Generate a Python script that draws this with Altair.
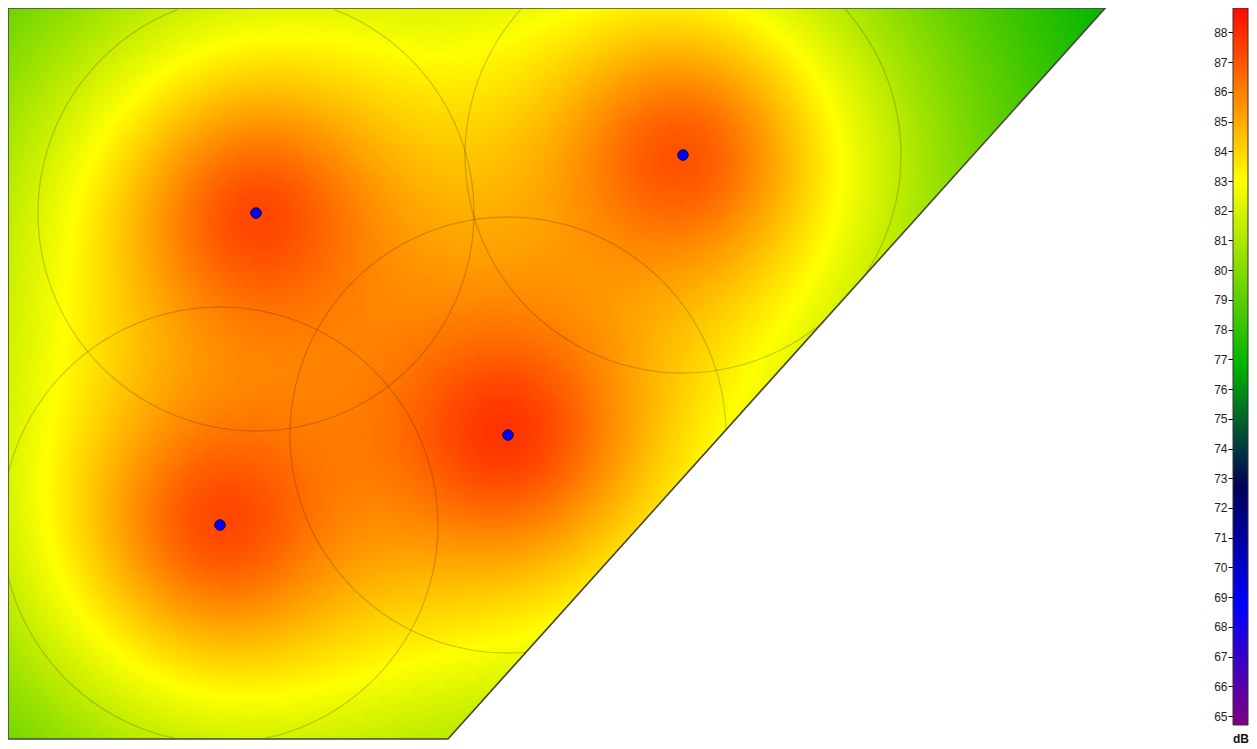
import numpy as np
import pandas as pd
import altair as alt

# ---- site geometry (metres, origin bottom-left, y up) ----
site_x = [0.0, 0.0, 109.73, 44.0, 0.0]
site_y = [0.0, 73.1, 73.1, 0.0, 0.0]
diag_x0, diag_x1, diag_ytop = 44.0, 110.0, 73.4   # slanted edge from (44,0) towards (110,73.4)
view_w, view_h = 110.0, 73.1

# ---- noise sources ----
src_name = ["S1", "S2", "S3", "S4"]
src_x = [24.8, 67.5, 50.0, 21.2]
src_y = [52.6, 58.4, 30.4, 21.4]
src_lw = [107.4, 107.4, 107.8, 107.4]
rec_h = 11.5          # source/receiver height offset (m)
ring_r = 21.8         # radius of the reference circles (m)

# ---- colour legend ----
cb_stops = [64.7, 68.7, 72.7, 76.8, 83.0, 89.0]
cb_colors = ["#800080", "#0000ff", "#00005a", "#00b400", "#ffff00", "#ff0000"]
cb_ticks = list(range(65, 89))
cb_min, cb_max = 64.7, 88.82

# ---- noise grid from the sources ----
cell = 0.4
gx = np.arange(0, view_w - 1e-9, cell)
gy = np.arange(0, view_h, cell)
X, Y = np.meshgrid(gx, gy)
Xc, Yc = X + cell / 2, Y + cell / 2
E = np.zeros_like(X)
for sx, sy, lw in zip(src_x, src_y, src_lw):
    d2 = (Xc - sx) ** 2 + (Yc - sy) ** 2 + rec_h ** 2
    E += 10 ** ((lw - 10 * np.log10(d2)) / 10)
L = 10 * np.log10(E)
diag_top = diag_x0 + (Y + cell) * (diag_x1 - diag_x0) / diag_ytop
mask = X < diag_top
grid = pd.DataFrame({
    "x": np.round(X[mask], 2),
    "y": np.round(Y[mask], 2),
    "L": np.round(L[mask], 2),
})

xsc = alt.Scale(domain=[0, view_w], nice=False, zero=False)
ysc = alt.Scale(domain=[0, view_h], nice=False, zero=False)
cscale = alt.Scale(domain=cb_stops, range=cb_colors, interpolate="rgb", clamp=True)

cells = alt.Chart(grid).transform_calculate(
    x2=f"datum.x + {cell}", y2=f"datum.y + {cell}"
).mark_rect(clip=True, strokeWidth=0.7).encode(
    x=alt.X("x:Q", scale=xsc, axis=None),
    x2="x2:Q",
    y=alt.Y("y:Q", scale=ysc, axis=None),
    y2="y2:Q",
    color=alt.Color("L:Q", scale=cscale, legend=None),
    stroke=alt.Stroke("L:Q", scale=cscale, legend=None),
)

# reference circles (only the parts inside the view)
rings = []
seg = 0
for i, (sx, sy) in enumerate(zip(src_x, src_y)):
    seg += 1
    prev_in = True
    for k, a in enumerate(np.linspace(0, 2 * np.pi, 241)):
        px, py = sx + ring_r * np.cos(a), sy + ring_r * np.sin(a)
        inside = (0 <= px <= view_w) and (0 <= py <= view_h)
        if inside:
            if not prev_in:
                seg += 1
            rings.append({"id": seg, "k": k, "x": px, "y": py})
        prev_in = inside
rings = pd.DataFrame(rings)
ring_layer = alt.Chart(rings).mark_line(
    clip=True, color="#000000", strokeOpacity=0.18, strokeWidth=1.3
).encode(
    x=alt.X("x:Q", scale=xsc, axis=None),
    y=alt.Y("y:Q", scale=ysc, axis=None),
    detail="id:N",
    order="k:Q",
)

# blank out beyond the slanted edge
tri = pd.DataFrame({"x": [diag_x0, site_x[2], view_w], "y": [0.0, view_h, view_h], "y0": [0.0, 0.0, 0.0]})
mask_layer = alt.Chart(tri).mark_area(clip=True, color="white", opacity=1).encode(
    x=alt.X("x:Q", scale=xsc, axis=None),
    y=alt.Y("y:Q", scale=ysc, axis=None),
    y2="y0:Q",
)

site = pd.DataFrame({"x": site_x, "y": site_y, "k": list(range(len(site_x)))})
outline = alt.Chart(site).mark_line(color="#454545", strokeWidth=1.6).encode(
    x=alt.X("x:Q", scale=xsc, axis=None),
    y=alt.Y("y:Q", scale=ysc, axis=None),
    order="k:Q",
)

srcs = pd.DataFrame({"name": src_name, "x": src_x, "y": src_y})
dots = alt.Chart(srcs).mark_circle(
    size=110, color="#0000ff", stroke="#00002a", strokeWidth=1, opacity=1
).encode(
    x=alt.X("x:Q", scale=xsc, axis=None),
    y=alt.Y("y:Q", scale=ysc, axis=None),
)

main = alt.layer(cells, ring_layer, mask_layer, outline, dots).properties(
    width=1100, height=731
)

# colour bar (smooth gradient built from the same stops)
def _hex(c):
    return [int(c[i:i + 2], 16) for i in (1, 3, 5)]

rgb = np.array([_hex(c) for c in cb_colors], dtype=float)
grad_vals = [cb_min] + [s for s in cb_stops if cb_min < s < cb_max] + [cb_max]
grad_stops = []
for v in grad_vals:
    col = [int(round(np.interp(v, cb_stops, rgb[:, j]))) for j in range(3)]
    grad_stops.append(alt.GradientStop(
        color="#%02x%02x%02x" % tuple(col),
        offset=float((v - cb_min) / (cb_max - cb_min)),
    ))
gradient = alt.LinearGradient(gradient="linear", stops=grad_stops, x1=0, x2=0, y1=1, y2=0)

cbdf = pd.DataFrame({"v": [cb_min], "v2": [cb_max], "x0": [0.0], "x1": [1.0]})
cbar = alt.Chart(cbdf).mark_rect(color=gradient, stroke="#333333", strokeWidth=1).encode(
    x=alt.X(
        "x0:Q",
        scale=alt.Scale(domain=[0, 1], nice=False),
        axis=alt.Axis(
            title="dB", labels=False, ticks=False, domain=False, grid=False,
            titleFontWeight="bold", titleFontSize=12, titlePadding=8, titleColor="#111",
        ),
    ),
    x2="x1:Q",
    y=alt.Y(
        "v:Q",
        scale=alt.Scale(domain=[cb_min, cb_max], nice=False, zero=False),
        axis=alt.Axis(
            values=cb_ticks, orient="left", title=None, grid=False, domain=False,
            tickSize=5, tickColor="#000", labelFontSize=12, labelColor="#222",
            labelPadding=1,
        ),
    ),
    y2="v2:Q",
).properties(width=15, height=717)

pad = {"left": -4, "top": -4, "right": 0, "bottom": 0}
chart = alt.hconcat(main, cbar, spacing=104).properties(padding=pad).configure(
    font="Liberation Sans"
).configure_view(strokeWidth=0)

chart.save("out.html", embed_options={"renderer": "svg", "actions": False})
